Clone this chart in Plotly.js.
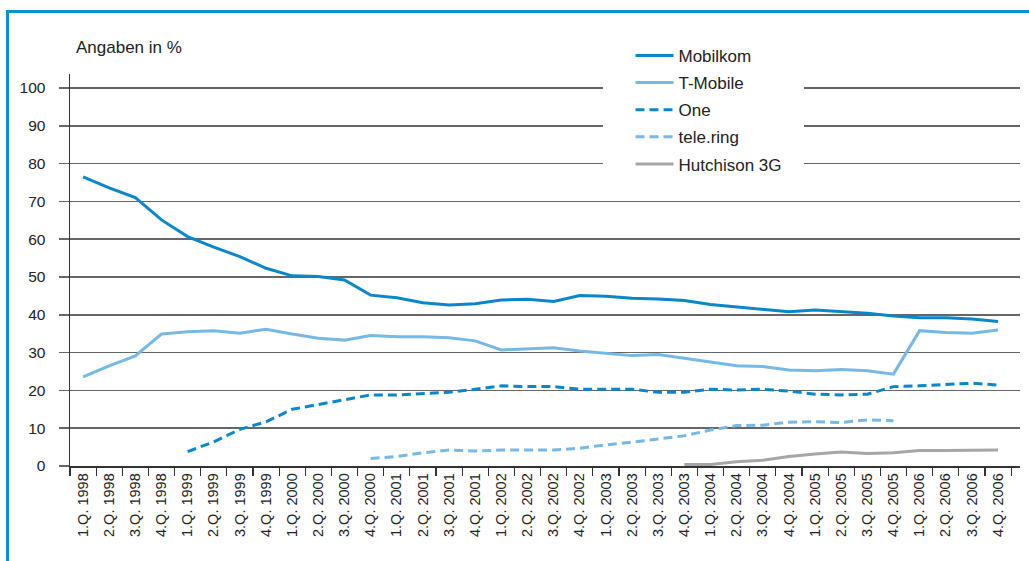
<!DOCTYPE html>
<html>
<head>
<meta charset="utf-8">
<script src="https://cdn.plot.ly/plotly-3.0.1.min.js"></script>
<style>
  html, body { margin: 0; padding: 0; background: #fff; overflow: hidden; }
  #chart { width: 1029px; height: 561px; }
  #frame { position: absolute; left: 6px; top: 10px; width: 1100px; height: 700px;
           border-left: 3px solid #0b8fd6; border-top: 3px solid #0b8fd6; pointer-events: none; z-index: 10; }
</style>
</head>
<body>
<div id="chart"></div>
<div id="frame"></div>
<script>
const quarters = [
  "1.Q. 1998","2.Q. 1998","3.Q. 1998","4.Q. 1998",
  "1.Q. 1999","2.Q. 1999","3.Q. 1999","4.Q. 1999",
  "1.Q. 2000","2.Q. 2000","3.Q. 2000","4.Q. 2000",
  "1.Q. 2001","2.Q. 2001","3.Q. 2001","4.Q. 2001",
  "1.Q. 2002","2.Q. 2002","3.Q. 2002","4.Q. 2002",
  "1.Q. 2003","2.Q. 2003","3.Q. 2003","4.Q. 2003",
  "1.Q. 2004","2.Q. 2004","3.Q. 2004","4.Q. 2004",
  "1.Q. 2005","2.Q. 2005","3.Q. 2005","4.Q. 2005",
  "1.Q. 2006","2.Q. 2006","3.Q. 2006","4.Q. 2006"
];

const mobilkom = [76.5,73.6,71.0,65.1, 60.7,57.9,55.4,52.3, 50.3,50.1,49.2,45.2, 44.5,43.2,42.6,42.9,
  43.9,44.1,43.5,45.1, 44.9,44.4,44.2,43.8, 42.7,42.0,41.5,40.8, 41.3,40.8,40.4,39.7, 39.2,39.2,38.9,38.2];

const tmobile = [23.6,26.5,29.1,34.9, 35.5,35.8,35.1,36.2, 34.9,33.8,33.3,34.5, 34.2,34.2,33.9,33.1,
  30.7,31.1,31.3,30.4, 29.8,29.2,29.5,28.5, 27.3,26.5,26.3,25.4, 25.2,25.5,25.2,24.3, 35.8,35.3,35.1,36.0];

const one = [null,null,null,null, 3.8,6.4,9.7,11.7, 15.0,16.3,17.6,18.8, 18.8,19.2,19.5,20.3,
  21.2,21.0,21.0,20.3, 20.3,20.3,19.5,19.5, 20.3,20.1,20.3,19.8, 19.0,18.8,19.0,21.0, 21.2,21.6,21.9,21.4];

const telering = [null,null,null,null, null,null,null,null, null,null,null,2.0, 2.5,3.5,4.2,4.0,
  4.2,4.2,4.2,4.7, 5.6,6.3,7.1,8.0, 9.5,10.7,10.8,11.6, 11.7,11.5,12.2,12.0, null,null,null,null];

const hutchison = [null,null,null,null, null,null,null,null, null,null,null,null, null,null,null,null,
  null,null,null,null, null,null,null,0.4, 0.4,1.1,1.5,2.5, 3.2,3.7,3.3,3.5, 4.1,4.1,4.2,4.2];

const yTicks = [0,10,20,30,40,50,60,70,80,90,100];

const dark = '#0a86cc', light = '#76b8e6', grey = '#a6a6a6';
const dashPat = '9px,5px';

function tr(name, y, color, dash, group) {
  return {
    type: 'scatter', mode: 'lines', name: name, x: quarters, y: y,
    line: { color: color, width: 3, dash: dash },
    connectgaps: false, legendgroup: group, hoverinfo: 'skip'
  };
}

const data = [
  tr('Mobilkom', mobilkom, dark, 'solid', 'a'),
  tr('T-Mobile', tmobile, light, 'solid', 'b'),
  tr('One', one, dark, dashPat, 'c'),
  tr('tele.ring', telering, light, dashPat, 'd'),
  tr('Hutchison 3G', hutchison, grey, 'solid', 'e')
];

const fontFam = '"Liberation Sans", Arial, sans-serif';

const layout = {
  width: 1029, height: 561,
  margin: { l: 70, r: 9, t: 74, b: 95 },
  paper_bgcolor: '#fff', plot_bgcolor: '#fff',
  font: { family: fontFam, color: '#222', size: 15 },
  showlegend: true,
  legend: {
    x: 0.59, y: 1.092, xanchor: 'left', yanchor: 'top',
    bgcolor: 'rgba(0,0,0,0)', borderwidth: 0,
    font: { family: fontFam, size: 17, color: '#222' },
    traceorder: 'grouped', tracegroupgap: 2, itemwidth: 38
  },
  xaxis: {
    type: 'category', range: [-0.5, 35.84],
    tickangle: -90, tickson: 'boundaries',
    ticks: 'outside', ticklen: 8, tickcolor: '#333', tickwidth: 1.2,
    showline: true, linecolor: '#333', linewidth: 1.5,
    showgrid: false, zeroline: false,
    tickfont: { family: fontFam, size: 14.5, color: '#222' },
    fixedrange: true
  },
  yaxis: {
    range: [0, 103.7], tickvals: yTicks, ticktext: yTicks.map(String),
    ticks: 'outside', ticklen: 10, tickcolor: '#666', tickwidth: 1.5,
    ticklabelstandoff: 10,
    showgrid: true, gridcolor: '#666', gridwidth: 1.5,
    showline: true, linecolor: '#333', linewidth: 1.5,
    zeroline: false,
    tickfont: { family: fontFam, size: 15.5, color: '#222' },
    fixedrange: true
  },
  shapes: [{
    type: 'rect', xref: 'paper', yref: 'paper', layer: 'above',
    x0: 0.561, x1: 0.7726, y0: 0.74, y1: 1.087,
    fillcolor: '#fff', line: { width: 0 }
  }],
  annotations: [{
    text: 'Angaben in %', xref: 'paper', yref: 'paper',
    x: 0.004, y: 1.068, xanchor: 'left', yanchor: 'middle', showarrow: false,
    font: { family: fontFam, size: 17, color: '#222' }
  }]
};

Plotly.newPlot('chart', data, layout, { staticPlot: true, displayModeBar: false });
</script>
</body>
</html>
